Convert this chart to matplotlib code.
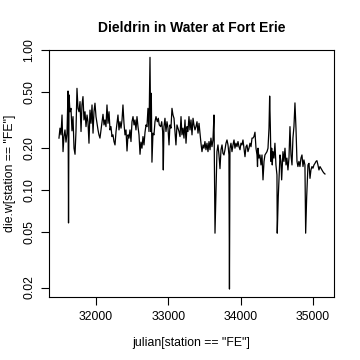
import numpy as np
import matplotlib
matplotlib.use('Agg')
import matplotlib.pyplot as plt
from matplotlib.ticker import FixedLocator, NullLocator, FormatStrFormatter

plt.rcParams['font.family'] = ['Liberation Sans', 'DejaVu Sans']

#%% data (julian day, dieldrin concentration)
julian = [
    31488, 31502, 31516, 31530, 31544, 31557, 31571, 31585, 31599, 31613,
    31620, 31627, 31640, 31654, 31668, 31682, 31696, 31710, 31723, 31737,
    31751, 31765, 31779, 31793, 31806, 31820, 31834, 31848, 31862, 31876,
    31889, 31903, 31917, 31931, 31945, 31959, 31972, 31986, 32000, 32014,
    32028, 32041, 32055, 32069, 32083, 32097, 32111, 32124, 32138, 32152,
    32166, 32180, 32194, 32207, 32221, 32235, 32249, 32263, 32277, 32290,
    32304, 32318, 32332, 32346, 32360, 32373, 32387, 32401, 32415, 32429,
    32443, 32456, 32470, 32484, 32498, 32512, 32526, 32539, 32553, 32567,
    32581, 32595, 32609, 32622, 32636, 32650, 32664, 32678, 32692, 32705,
    32719, 32733, 32747, 32756, 32765, 32774, 32788, 32802, 32816, 32830,
    32848, 32862, 32875, 32895, 32909, 32922, 32931, 32940, 32954, 32968,
    32982, 32996, 33010, 33023, 33037, 33051, 33065, 33079, 33093, 33106,
    33120, 33134, 33148, 33162, 33176, 33189, 33203, 33217, 33231, 33245,
    33259, 33272, 33286, 33300, 33314, 33328, 33342, 33355, 33369, 33383,
    33397, 33411, 33425, 33438, 33452, 33466, 33480, 33494, 33507, 33521,
    33535, 33549, 33563, 33577, 33590, 33604, 33618, 33632, 33646, 33660,
    33673, 33687, 33701, 33715, 33729, 33743, 33756, 33770, 33784, 33798,
    33812, 33826, 33839, 33846, 33853, 33867, 33881, 33895, 33909, 33922,
    33936, 33950, 33964, 33978, 33992, 34005, 34019, 34033, 34047, 34061,
    34075, 34088, 34102, 34116, 34130, 34144, 34158, 34171, 34185, 34199,
    34213, 34227, 34234, 34241, 34254, 34268, 34282, 34296, 34310, 34324,
    34337, 34351, 34365, 34379, 34393, 34402, 34411, 34420, 34430, 34438,
    34448, 34462, 34475, 34489, 34503, 34507, 34521, 34545, 34558, 34568,
    34586, 34600, 34614, 34628, 34641, 34655, 34669, 34683, 34697, 34711,
    34724, 34738, 34752, 34766, 34780, 34793, 34807, 34821, 34835, 34849,
    34863, 34876, 34890, 34900, 34914, 34932, 34946, 34960, 34973, 34987,
    35001, 35015, 35029, 35043, 35056, 35070, 35084, 35098, 35112, 35125,
    35139, 35153, 35167,
]

die_w = [
    0.235, 0.277, 0.248, 0.344, 0.188, 0.241, 0.269, 0.220, 0.255, 0.511,
    0.058, 0.479, 0.363, 0.384, 0.265, 0.335, 0.199, 0.180, 0.262, 0.534,
    0.384, 0.363, 0.429, 0.262, 0.406, 0.466, 0.317, 0.363, 0.284, 0.344,
    0.308, 0.216, 0.373, 0.300, 0.406, 0.255, 0.363, 0.418, 0.335, 0.300,
    0.269, 0.248, 0.235, 0.269, 0.308, 0.348, 0.292, 0.317, 0.284, 0.406,
    0.300, 0.363, 0.269, 0.284, 0.241, 0.248, 0.222, 0.210, 0.262, 0.300,
    0.344, 0.269, 0.308, 0.277, 0.317, 0.406, 0.300, 0.248, 0.269, 0.190,
    0.248, 0.235, 0.269, 0.222, 0.308, 0.335, 0.292, 0.317, 0.269, 0.335,
    0.284, 0.248, 0.180, 0.220, 0.199, 0.241, 0.210, 0.259, 0.292, 0.284,
    0.384, 0.262, 0.890, 0.262, 0.492, 0.158, 0.255, 0.248, 0.308, 0.335,
    0.308, 0.326, 0.292, 0.284, 0.308, 0.262, 0.139, 0.284, 0.326, 0.262,
    0.308, 0.277, 0.210, 0.292, 0.277, 0.384, 0.344, 0.326, 0.262, 0.210,
    0.292, 0.277, 0.262, 0.241, 0.335, 0.248, 0.277, 0.235, 0.317, 0.216,
    0.284, 0.262, 0.335, 0.269, 0.317, 0.248, 0.326, 0.292, 0.269, 0.284,
    0.308, 0.255, 0.300, 0.255, 0.216, 0.188, 0.210, 0.199, 0.222, 0.194,
    0.216, 0.188, 0.222, 0.194, 0.235, 0.204, 0.228, 0.344, 0.049, 0.100,
    0.188, 0.210, 0.178, 0.142, 0.194, 0.210, 0.183, 0.178, 0.194, 0.216,
    0.228, 0.210, 0.178, 0.0195, 0.199, 0.216, 0.188, 0.210, 0.228, 0.199,
    0.216, 0.204, 0.222, 0.204, 0.194, 0.216, 0.210, 0.228, 0.199, 0.173,
    0.204, 0.210, 0.188, 0.199, 0.216, 0.204, 0.235, 0.235, 0.241, 0.259,
    0.199, 0.178, 0.147, 0.199, 0.169, 0.178, 0.151, 0.178, 0.118, 0.160,
    0.178, 0.183, 0.188, 0.199, 0.277, 0.470, 0.292, 0.160, 0.199, 0.151,
    0.188, 0.169, 0.216, 0.151, 0.128, 0.049, 0.089, 0.178, 0.160, 0.118,
    0.188, 0.160, 0.199, 0.151, 0.169, 0.139, 0.169, 0.284, 0.178, 0.151,
    0.235, 0.284, 0.420, 0.277, 0.160, 0.147, 0.160, 0.147, 0.169, 0.178,
    0.147, 0.164, 0.151, 0.049, 0.089, 0.151, 0.155, 0.121, 0.139, 0.147,
    0.143, 0.151, 0.155, 0.160, 0.162, 0.151, 0.139, 0.147, 0.143, 0.139,
    0.135, 0.132, 0.130,
]

x_ticks = [32000, 33000, 34000, 35000]
y_ticks = [0.02, 0.05, 0.10, 0.20, 0.50, 1.00]

#%% plot
fig = plt.figure(figsize=(3.6, 3.6), dpi=100)
ax = fig.add_axes([49 / 360, 1 - 297 / 360, 285 / 360, 247 / 360])

ax.plot(julian, die_w, color='black', lw=0.9)
ax.set_yscale('log')
ax.set_xlim(31350, 35292)
ax.set_ylim(0.0171, 1.005)

ax.xaxis.set_major_locator(FixedLocator(x_ticks))
ax.yaxis.set_major_locator(FixedLocator(y_ticks))
ax.yaxis.set_minor_locator(NullLocator())
ax.xaxis.set_minor_locator(NullLocator())
ax.yaxis.set_major_formatter(FormatStrFormatter('%.2f'))
ax.tick_params(direction='out', length=6, width=0.8, labelsize=8.8, pad=4)
for lab in ax.get_yticklabels():
    lab.set_rotation(90)
    lab.set_va('center')

for sp in ax.spines.values():
    sp.set_linewidth(0.8)

ax.set_title('Dieldrin in Water at Fort Erie', fontsize=10, fontweight='bold', pad=13)
ax.set_xlabel('julian[station == "FE"]', fontsize=8.8, labelpad=10)
ax.set_ylabel('die.w[station == "FE"]', fontsize=8.8, labelpad=5)

fig.savefig('out.png', dpi=100)
